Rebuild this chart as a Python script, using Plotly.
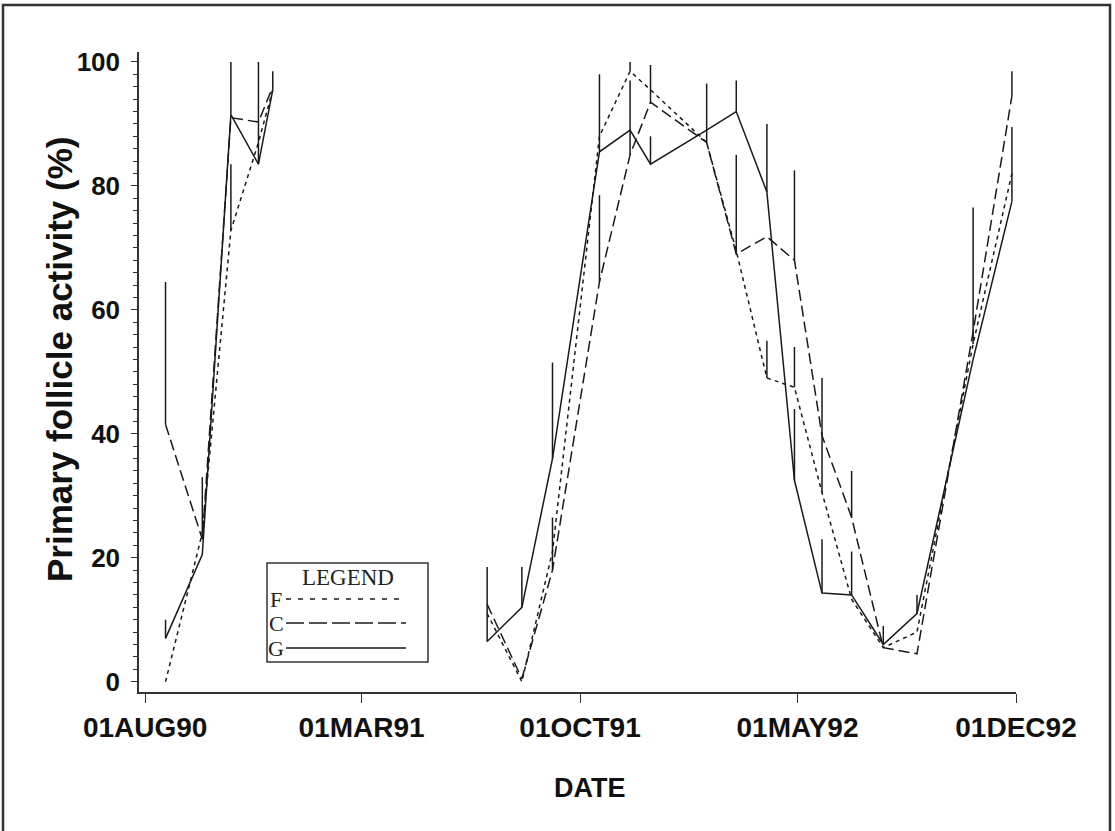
import plotly.graph_objects as go

# Sampling dates (two seasons) and mean primary follicle activity per group
dates = ["1990-08-21", "1990-09-26", "1990-10-24", "1990-11-20", "1990-12-04",
         "1991-07-02", "1991-08-05", "1991-09-04", "1991-10-20", "1991-11-19", "1991-12-09",
         "1992-02-02", "1992-03-02", "1992-04-01", "1992-04-28", "1992-05-25", "1992-06-23",
         "1992-07-24", "1992-08-26", "1992-10-20", "1992-11-27"]
f_mean = [0, 24, 72.8, 87, 95.5, 11, 0, 21, 88, 98.5, 95.5,
          87, 69.5, 49, 47.5, 30.5, 13.3, 5.5, 8, 54.5, 82]
c_mean = [41.5, 23, 91, 90.3, 96, 12.5, 0.5, 18, 64.5, 85, 93.5,
          87, 69, 71.8, 68, 39.7, 26.5, 5.5, 4.5, 56.5, 94.5]
g_mean = [7, 20.5, 91.5, 83.5, 95.5, 6.5, 12, 36, 85.5, 89, 83.5,
          89, 92, 79, 32.5, 14.3, 14, 6, 11, 52, 77.5]

# Upper end of the standard-error bar (None = no bar drawn)
f_upper = [None, None, 83.5, None, None, None, None, None, None, 100, None,
           None, None, 55, 54, 49, None, None, None, 76.5, None]
c_upper = [64.5, 33, None, None, None, None, None, 26.5, 78.5, 97, 99.5,
           96.5, 85, None, 82.5, None, 34, None, None, None, 98.5]
g_upper = [10, None, 100, 100, 98.5, 18.5, 18.5, 51.5, 98, None, 88,
           None, 97, 90, 44, 23, 21, 9, 14, None, 89.5]

tick_dates = ["1990-08-01", "1991-03-01", "1991-10-01", "1992-05-01", "1992-12-01"]
tick_text = ["01AUG90", "01MAR91", "01OCT91", "01MAY92", "01DEC92"]
y_ticks = [0, 20, 40, 60, 80, 100]

SEASON_BREAK = 5  # first index of the second season


def split(seq):
    return list(seq[:SEASON_BREAK]) + [None] + list(seq[SEASON_BREAK:])


INK = "#1a1a1a"
series = [
    ("F", f_mean, f_upper, "4px,4px"),
    ("C", c_mean, c_upper, "11px,5px"),
    ("G", g_mean, g_upper, "solid"),
]

fig = go.Figure()
for name, mean, upper, dash in series:
    plus = [(u - m) if u is not None else 0 for m, u in zip(mean, upper)]
    fig.add_trace(go.Scatter(
        x=split(dates), y=split(mean), name=name, mode="lines",
        line=dict(color=INK, width=1.5, dash=dash),
        connectgaps=False, showlegend=False,
        error_y=dict(type="data", symmetric=False, array=split(plus),
                     arrayminus=[0] * (len(mean) + 1),
                     color=INK, thickness=1.5, width=0),
    ))

# plot-area geometry in pixels
W, H = 1115, 831
L, R, T, B = 139, 99, 52, 139
PW, PH = W - L - R, H - T - B


def px(x):
    return (x - L) / PW


def py(y):
    return (H - B - y) / PH


bold = dict(family="Liberation Sans, Arial, sans-serif", color="#111", weight="bold")

fig.update_layout(
    width=W, height=H,
    margin=dict(l=L, r=R, t=T, b=B, autoexpand=False),
    paper_bgcolor="white", plot_bgcolor="white",
    xaxis=dict(
        type="date", range=["1990-07-26", "1992-12-01"],
        tickvals=tick_dates, ticktext=tick_text,
        showgrid=False, zeroline=False, showline=True,
        linecolor="#333", linewidth=1.5,
        ticks="outside", ticklen=9, tickwidth=1.4, tickcolor="#333",
        tickfont=dict(size=28, **bold), ticklabelstandoff=1,
    ),
    yaxis=dict(
        range=[-1.66, 101.6], tickvals=y_ticks,
        showgrid=False, zeroline=False, showline=True,
        linecolor="#333", linewidth=1.5,
        ticks="outside", ticklen=6, tickwidth=1.4, tickcolor="#333",
        minor=dict(dtick=2, ticks="outside", ticklen=4, tickwidth=1.2, tickcolor="#333"),
        tickfont=dict(size=26, **bold), ticklabelstandoff=6,
    ),
)

# axis titles
fig.add_annotation(text="Primary follicle activity (%)", xref="paper", yref="paper",
                   x=px(59), y=py(360), xanchor="center", yanchor="middle",
                   showarrow=False, textangle=-90,
                   font=dict(size=35, **bold))
fig.add_annotation(text="DATE", xref="paper", yref="paper",
                   x=px(590), y=py(788), xanchor="center", yanchor="middle",
                   showarrow=False, font=dict(size=27, **bold))

# outer frame
fig.add_shape(type="rect", xref="paper", yref="paper",
              x0=px(3), x1=px(1110), y0=py(845), y1=py(5),
              line=dict(color="#333", width=2.5), fillcolor="rgba(0,0,0,0)")

# legend box
serif = dict(family="Liberation Serif, Times New Roman, serif", color="#222")
fig.add_shape(type="rect", xref="paper", yref="paper",
              x0=px(267), x1=px(428), y0=py(662), y1=py(563),
              line=dict(color="#333", width=1.5), fillcolor="white")
fig.add_annotation(text="LEGEND", xref="paper", yref="paper", x=px(348), y=py(577),
                   xanchor="center", yanchor="middle",
                   showarrow=False, font=dict(size=23, **serif))
legend_rows = [("F", 599, "5px,7px"), ("C", 623, "18px,5px"), ("G", 648, "solid")]
for label, ypx, dash in legend_rows:
    fig.add_annotation(text=label, xref="paper", yref="paper", x=px(276), y=py(ypx),
                       xanchor="center", yanchor="middle",
                       showarrow=False, font=dict(size=22, **serif))
    fig.add_shape(type="line", xref="paper", yref="paper",
                  x0=px(286), x1=px(406), y0=py(ypx), y1=py(ypx),
                  line=dict(color=INK, width=1.3, dash=dash))

fig.write_html("out.html")
